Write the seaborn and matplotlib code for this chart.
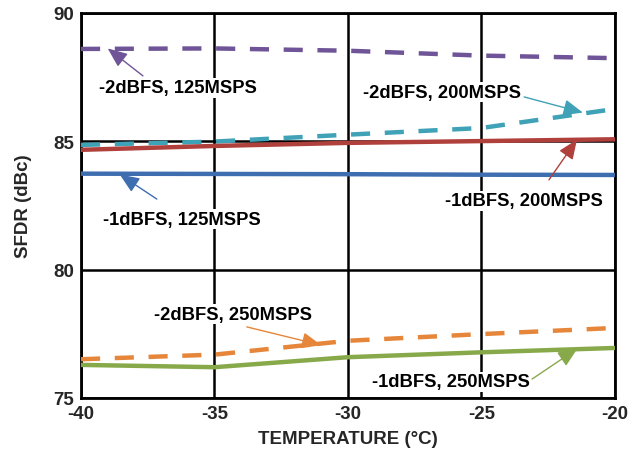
import numpy as np
import pandas as pd
import matplotlib
matplotlib.use("Agg")
import matplotlib.pyplot as plt
import seaborn as sns

# ── data ──────────────────────────────────────────────────────────────────────
temps = [-40, -35, -30, -25, -20]

sfdr_2dbfs_125 = [88.60, 88.62, 88.53, 88.34, 88.24]
sfdr_2dbfs_200 = [84.86, 84.99, 85.26, 85.52, 86.26]
sfdr_1dbfs_200 = [84.67, 84.82, 84.94, 85.01, 85.08]
sfdr_1dbfs_125 = [83.74, 83.73, 83.72, 83.70, 83.69]
sfdr_2dbfs_250 = [76.51, 76.69, 77.23, 77.49, 77.73]
sfdr_1dbfs_250 = [76.29, 76.20, 76.59, 76.78, 76.95]

series_names = ["-2dBFS, 125MSPS", "-2dBFS, 200MSPS", "-1dBFS, 200MSPS",
                "-1dBFS, 125MSPS", "-2dBFS, 250MSPS", "-1dBFS, 250MSPS"]
series_vals = [sfdr_2dbfs_125, sfdr_2dbfs_200, sfdr_1dbfs_200,
               sfdr_1dbfs_125, sfdr_2dbfs_250, sfdr_1dbfs_250]

x_ticks = [-40, -35, -30, -25, -20]
y_ticks = [75, 80, 85, 90]

# ── styling ───────────────────────────────────────────────────────────────────
COLORS = {
    "-2dBFS, 125MSPS": "#6F5597",
    "-2dBFS, 200MSPS": "#3FA2B6",
    "-1dBFS, 200MSPS": "#B0403C",
    "-1dBFS, 125MSPS": "#3E6EB0",
    "-2dBFS, 250MSPS": "#E6863A",
    "-1dBFS, 250MSPS": "#87A94A",
}
DASHES = {n: ((4.3, 3.3) if n.startswith("-2") else "") for n in series_names}

# label text position, arrow start, arrow tip (data coords)
LABELS = {
    "-2dBFS, 125MSPS": ((-36.37, 87.08), (-37.68, 87.55), (-39.00, 88.62)),
    "-2dBFS, 200MSPS": ((-26.47, 86.92), (-23.40, 86.73), (-21.20, 86.12)),
    "-1dBFS, 200MSPS": ((-23.40, 82.68), (-22.47, 83.50), (-21.42, 85.07)),
    "-1dBFS, 125MSPS": ((-36.22, 81.97), (-37.16, 82.75), (-38.55, 83.71)),
    "-2dBFS, 250MSPS": ((-34.32, 78.27), (-33.79, 77.77), (-31.00, 77.06)),
    "-1dBFS, 250MSPS": ((-26.13, 75.63), (-23.10, 75.74), (-21.40, 76.93)),
}

df = pd.concat([
    pd.DataFrame({"temp": temps, "sfdr": v, "series": n})
    for n, v in zip(series_names, series_vals)
])

sns.set_style("white")
plt.rcParams["font.family"] = ["Liberation Sans", "DejaVu Sans"]
plt.rcParams["font.weight"] = "bold"
plt.rcParams["axes.unicode_minus"] = False

fig = plt.figure(figsize=(6.44, 4.56), dpi=100)
ax = fig.add_axes([0.1258, 0.125, 0.829, 0.8443])

sns.lineplot(data=df, x="temp", y="sfdr", hue="series", style="series",
             palette=COLORS, dashes=DASHES, linewidth=3.2, legend=False,
             ax=ax, zorder=3)

ax.set_xlim(-40, -20)
ax.set_ylim(75, 90)
ax.set_xticks(x_ticks)
ax.set_yticks(y_ticks)
ax.tick_params(length=0, labelsize=13.5, pad=5)
for lab in ax.get_xticklabels() + ax.get_yticklabels():
    lab.set_fontweight("bold")
ax.grid(True, color="black", linewidth=1.8)
for s in ax.spines.values():
    s.set_color("black")
    s.set_linewidth(2)

ax.set_xlabel("TEMPERATURE (°C)", fontsize=13.5, fontweight="bold", labelpad=6)
ax.set_ylabel("SFDR (dBc)", fontsize=13.5, fontweight="bold", labelpad=15)

for name, (txt, start, tip) in LABELS.items():
    ax.text(*txt, name, ha="center", va="center", fontsize=13.2,
            fontweight="bold", color="black", zorder=5,
            bbox=dict(facecolor="white", edgecolor="none", pad=1.0))
    ax.annotate("", xy=tip, xytext=start, zorder=6,
                arrowprops=dict(arrowstyle="-|>,head_length=1.2,head_width=0.5",
                                color=COLORS[name], lw=1.0,
                                shrinkA=0, shrinkB=0))

plt.savefig("out.png", dpi=100)
plt.close()
